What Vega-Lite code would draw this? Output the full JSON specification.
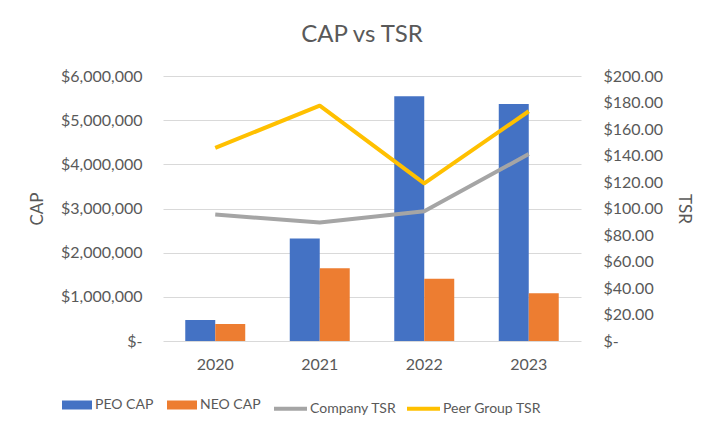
{
  "$schema": "https://vega.github.io/schema/vega-lite/v6.json",
  "width": 418,
  "height": 265,
  "autosize": {"type": "none"},
  "padding": {"left": 163, "top": 76, "right": 141, "bottom": 93},
  "background": "white",
  "config": {
    "font": "Lato",
    "view": {"stroke": null},
    "axis": {"labelFont": "Lato", "titleFont": "Lato", "labelColor": "#595959", "titleColor": "#595959", "labelFontSize": 16, "titleFontSize": 17, "titleFontWeight": "normal", "domain": false, "ticks": false},
    "legend": {"labelFont": "Lato", "labelFontSize": 14, "labelColor": "#595959", "padding": 0}
  },
  "title": {"text": "CAP vs TSR", "font": "Lato", "fontSize": 24, "fontWeight": "normal", "color": "#595959", "anchor": "middle", "dx": -10, "offset": 21},
  "datasets": {
    "cap": [
      {"year": "2020", "series": "PEO CAP", "value": 475000},
      {"year": "2020", "series": "NEO CAP", "value": 385000},
      {"year": "2021", "series": "PEO CAP", "value": 2318000},
      {"year": "2021", "series": "NEO CAP", "value": 1646000},
      {"year": "2022", "series": "PEO CAP", "value": 5540000},
      {"year": "2022", "series": "NEO CAP", "value": 1410000},
      {"year": "2023", "series": "PEO CAP", "value": 5366000},
      {"year": "2023", "series": "NEO CAP", "value": 1080000}
    ],
    "tsr": [
      {"year": "2020", "series": "Company TSR", "value": 95.4},
      {"year": "2021", "series": "Company TSR", "value": 89.4},
      {"year": "2022", "series": "Company TSR", "value": 97.9},
      {"year": "2023", "series": "Company TSR", "value": 141.1},
      {"year": "2020", "series": "Peer Group TSR", "value": 145.7},
      {"year": "2021", "series": "Peer Group TSR", "value": 177.6},
      {"year": "2022", "series": "Peer Group TSR", "value": 119.0},
      {"year": "2023", "series": "Peer Group TSR", "value": 173.4}
    ]
  },
  "encoding": {
    "x": {
      "field": "year", "type": "nominal",
      "scale": {"paddingInner": 0.426, "paddingOuter": 0.213},
      "axis": {"title": null, "labelAngle": 0, "labelPadding": 15, "grid": false}
    }
  },
  "layer": [
    {
      "data": {"name": "cap"},
      "mark": {"type": "bar"},
      "encoding": {
        "xOffset": {"field": "series", "type": "nominal", "scale": {"domain": ["PEO CAP", "NEO CAP"], "paddingInner": 0, "paddingOuter": 0}},
        "y": {
          "field": "value", "type": "quantitative",
          "scale": {"domain": [0, 6000000], "nice": false},
          "axis": {
            "title": "CAP", "titlePadding": 14, "labelPadding": 21,
            "values": [0, 1000000, 2000000, 3000000, 4000000, 5000000, 6000000],
            "labelExpr": "datum.value == 0 ? '$-\u00a0\u00a0\u00a0' : '$' + format(datum.value, ',.0f')",
            "grid": true, "gridColor": "#D9D9D9", "gridWidth": 1
          }
        },
        "color": {
          "field": "series", "type": "nominal",
          "scale": {"domain": ["PEO CAP", "NEO CAP"], "range": ["#4472C4", "#ED7D31"]},
          "legend": {
            "title": null, "orient": "none", "direction": "horizontal",
            "legendX": -101, "legendY": 314,
            "symbolType": "M-1,-0.3H1V0.3H-1Z", "symbolSize": 900, "symbolStrokeWidth": 0, "symbolOpacity": 1,
            "labelOffset": 3, "columnPadding": 13
          }
        }
      }
    },
    {
      "data": {"name": "tsr"},
      "mark": {"type": "line", "strokeWidth": 4, "strokeJoin": "round"},
      "encoding": {
        "y": {
          "field": "value", "type": "quantitative",
          "scale": {"domain": [0, 200], "nice": false},
          "axis": {
            "orient": "right", "title": "TSR", "titlePadding": 12, "labelPadding": 22, "grid": false,
            "values": [0, 20, 40, 60, 80, 100, 120, 140, 160, 180, 200],
            "labelExpr": "datum.value == 0 ? '$-' : '$' + format(datum.value, '.2f')"
          }
        },
        "stroke": {
          "field": "series", "type": "nominal",
          "scale": {"domain": ["Company TSR", "Peer Group TSR"], "range": ["#A5A5A5", "#FFC000"]},
          "legend": {
            "title": null, "orient": "none", "direction": "horizontal",
            "legendX": 109, "legendY": 314,
            "symbolType": "stroke", "symbolSize": 1089, "symbolStrokeWidth": 4,
            "labelOffset": 1, "columnPadding": 2
          }
        }
      }
    }
  ],
  "resolve": {"scale": {"y": "independent"}, "axis": {"y": "independent"}}
}
